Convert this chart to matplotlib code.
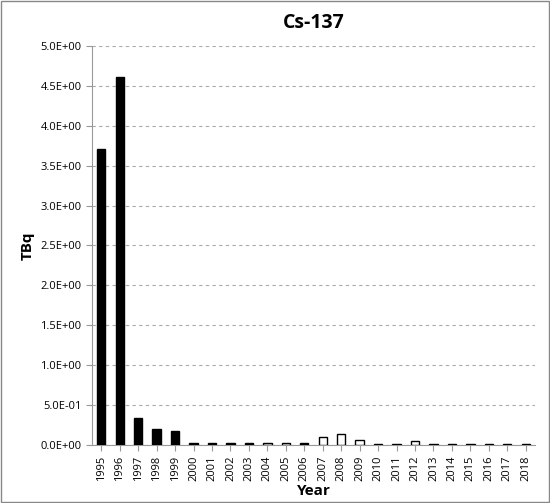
import matplotlib.pyplot as plt
from matplotlib.patches import Rectangle

years = [str(y) for y in range(1995, 2019)]
values = [3.71, 4.61, 0.34, 0.20, 0.17, 0.02, 0.02, 0.02, 0.02, 0.03, 0.03, 0.02,
          0.10, 0.14, 0.066, 0.01, 0.01, 0.045, 0.01, 0.01, 0.01, 0.01, 0.01, 0.01]
white_years = ["2004", "2005", "2007", "2008", "2009", "2010", "2011", "2012",
               "2013", "2014", "2015", "2016", "2017", "2018"]

plt.rcParams['font.family'] = ['Open Sans', 'DejaVu Sans']
fig = plt.figure(figsize=(5.5, 5.03), dpi=100)
ax = fig.add_axes([92 / 550, 1 - 445 / 503, 443 / 550, 399 / 503])

colors = ["white" if y in white_years else "black" for y in years]
ax.bar(years, values, width=0.45, color=colors, edgecolor="black", linewidth=1, zorder=3)

ax.set_ylim(0, 5.0)
ax.set_xlim(-0.5, len(years) - 0.5)
ax.set_yticks([i * 0.5 for i in range(11)])
ax.set_yticklabels([f"{i * 0.5:.1E}".replace("E+0", "E+0").replace("E-0", "E-0") for i in range(11)], fontsize=8)
ax.set_xticks(range(len(years)))
ax.set_xticklabels(years, rotation=90, fontsize=8)
ax.grid(axis="y", color="#aaaaaa", linestyle=(0, (3, 3)), linewidth=0.8, zorder=0)
for s in ["top", "right"]:
    ax.spines[s].set_visible(False)
for s in ["left", "bottom"]:
    ax.spines[s].set_color("#999999")
ax.tick_params(axis="both", color="#999999", length=4)
ax.set_ylabel("TBq", fontsize=11, fontweight="bold")
ax.set_xlabel("Year", fontsize=11, fontweight="bold", labelpad=2)
fig.suptitle("Cs-137", fontsize=14, fontweight="bold", x=0.57, y=0.975)
fig.patches.append(Rectangle((0.002, 0.002), 0.996, 0.996, transform=fig.transFigure,
                             fill=False, edgecolor="#888888", linewidth=1))
fig.savefig("out.png")
